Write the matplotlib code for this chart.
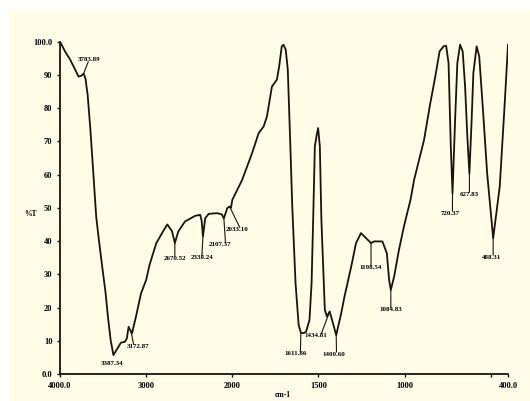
import numpy as np
import matplotlib
matplotlib.use("Agg")
import matplotlib.pyplot as plt
from matplotlib.patches import Rectangle

# ---- data ----
wavenumber = [4000, 3940, 3882, 3824, 3785, 3750, 3726, 3705, 3679, 3647, 3608, 3580,
              3549, 3510, 3471, 3444, 3412, 3380, 3333, 3294, 3247, 3224, 3204, 3165,
              3118, 3059, 3000, 2961, 2882, 2804, 2755, 2700, 2667, 2627, 2549, 2431,
              2373, 2355, 2341, 2314, 2274, 2176, 2120, 2098, 2059, 2032, 2015, 2000,
              1943, 1885, 1847, 1818, 1799, 1770, 1741, 1728, 1713, 1703, 1690, 1678,
              1665, 1652, 1633, 1615, 1602, 1585, 1572, 1552, 1540, 1530, 1521, 1510,
              1502, 1492, 1483, 1463, 1451, 1435, 1416, 1397, 1368, 1349, 1310, 1282,
              1253, 1224, 1195, 1177, 1129, 1103, 1090, 1080, 1061, 1033, 1004, 966,
              945, 887, 851, 822, 797, 774, 759, 745, 732, 722, 707, 694, 678, 663,
              649, 636, 624, 611, 601, 582, 567, 544, 521, 496, 486, 448, 419, 400]
transmittance = [100, 97.0, 94.6, 91.6, 89.5, 89.8, 90.4, 89.0, 84.0, 73.5, 58.4, 47.4,
                 40.4, 32.3, 24.4, 17.3, 10.2, 5.7, 7.7, 9.4, 9.7, 10.7, 14.2, 12.2,
                 17.3, 24.3, 28.3, 32.8, 39.4, 42.9, 45.0, 43.0, 39.4, 42.9, 45.9, 47.6,
                 47.9, 46.0, 41.4, 46.9, 48.2, 48.4, 48.0, 46.8, 49.9, 50.4, 50.0, 52.4,
                 58.4, 66.5, 72.5, 74.5, 77.5, 86.5, 88.6, 92.6, 98.6, 99.1, 97.6, 91.6,
                 71.5, 50.4, 27.3, 14.8, 12.4, 12.3, 12.7, 16.3, 27.3, 48.0, 68.5, 72.0,
                 74.0, 68.5, 46.4, 19.3, 17.3, 18.8, 15.3, 11.7, 18.3, 23.3, 32.3, 39.4,
                 42.4, 40.9, 39.4, 39.9, 39.9, 36.3, 28.3, 25.3, 29.3, 37.3, 44.4, 52.4,
                 58.4, 70.5, 81.5, 89.5, 97.1, 98.6, 98.8, 93.6, 68.5, 54.4, 76.5, 93.6,
                 99.1, 97.1, 86.5, 71.5, 60.4, 76.5, 90.6, 98.6, 95.6, 78.5, 60.4, 46.4,
                 40.9, 56.4, 81.5, 99.1]

peak_labels = ["3783.89", "3387.34", "3172.87", "2670.52", "2338.24", "2107.37",
               "2033.10", "1611.86", "1434.81", "1400.60", "1198.54", "1084.83",
               "720.37", "627.83", "488.31"]
peak_x = [3729, 3380, 3176, 2667, 2341, 2098, 2032, 1602, 1435, 1397, 1195, 1080,
          722, 624, 486]
peak_y = [90.2, 5.7, 12.9, 39.4, 41.4, 46.8, 50.4, 12.4, 18.8, 11.7, 39.4, 25.3,
          54.4, 60.4, 40.9]

x_ticks = [4000, 3000, 2000, 1500, 1000, 500, 400]
x_tick_labels = ["4000.0", "3000", "2000", "1500", "1000", "", "400.0"]
y_ticks = [0, 10, 20, 30, 40, 50, 60, 70, 80, 90, 100]
y_tick_labels = ["0.0", "10", "20", "30", "40", "50", "60", "70", "80", "90", "100.0"]

# ---- layout (label offsets in pixels, leader attach point on text box) ----
label_offsets = [(6, 15), (-1, -8), (7, -15), (0, -15), (-1, -21), (-4, -26),
                 (8, -23), (-5, -21), (-14, -24), (-2, -19), (0, -24), (0, -20),
                 (-2, -20), (0, -21), (-2, -19)]
label_relpos = [(0.45, 0.0), None, (0.3, 0.9), (0.5, 0.9), (0.5, 0.9), (0.75, 0.9),
                (0.6, 0.9), (0.7, 0.9), (0.75, 0.9), (0.6, 0.9), (0.5, 0.9), (0.5, 0.9),
                (0.6, 0.9), (0.5, 0.9), (0.6, 0.9)]

ink = "#1c120a"
cream = "#fffde8"

fig = plt.figure(figsize=(5.30, 4.01), dpi=100)
fig.patch.set_facecolor("white")
fig.add_artist(Rectangle((9 / 530, 0), 1, 392 / 401, transform=fig.transFigure,
                         facecolor=cream, edgecolor="none", zorder=-10))

ax = fig.add_axes([60 / 530, 27 / 401, 448 / 530, 332.3 / 401])
ax.set_facecolor("none")


def fwd(v):
    v = np.asarray(v, dtype=float)
    return np.where(v >= 2000, v, 2 * v - 2000)


def inv(u):
    u = np.asarray(u, dtype=float)
    return np.where(u >= 2000, u, (u + 2000) / 2)


ax.set_xscale("function", functions=(fwd, inv))
ax.plot(wavenumber, transmittance, color=ink, lw=1.3, solid_joinstyle="round")
ax.set_xlim(4000, 400)
ax.set_ylim(0, 100)

for spine in ["top", "right"]:
    ax.spines[spine].set_visible(False)
for spine in ["left", "bottom"]:
    ax.spines[spine].set_color(ink)
    ax.spines[spine].set_linewidth(1.3)

ax.set_xticks(x_ticks)
ax.set_xticklabels(x_tick_labels)
ax.set_yticks(y_ticks)
ax.set_yticklabels(y_tick_labels)
ax.minorticks_off()
ax.tick_params(axis="both", direction="out", length=2.5, width=1, color=ink,
               labelsize=6, labelcolor="black")
ax.tick_params(axis="x", pad=3)
ax.tick_params(axis="y", pad=3)
for lab in ax.get_xticklabels() + ax.get_yticklabels():
    lab.set_fontfamily("Liberation Serif")
    lab.set_fontweight("bold")

for txt, px, py, (dx, dy), rp in zip(peak_labels, peak_x, peak_y, label_offsets,
                                     label_relpos):
    kw = {}
    if rp is not None:
        kw["arrowprops"] = dict(arrowstyle="-", color=ink, lw=0.8, shrinkA=0,
                                shrinkB=0, patchA=None, relpos=rp)
    ax.annotate(txt, xy=(px, py), xytext=(dx, dy), textcoords="offset pixels",
                ha="center", va="center", fontsize=5.0, fontweight="bold",
                family="Liberation Serif", color="black", **kw)

fig.text(31 / 530, 1 - 214 / 401, "%T", fontsize=5.5, fontweight="bold",
         family="Liberation Serif", ha="center", va="center")
fig.text(283 / 530, 1 - 395 / 401, "cm-1", fontsize=5.5, fontweight="bold",
         family="Liberation Serif", ha="center", va="center")

fig.savefig("out.png", dpi=100, facecolor=fig.get_facecolor())
